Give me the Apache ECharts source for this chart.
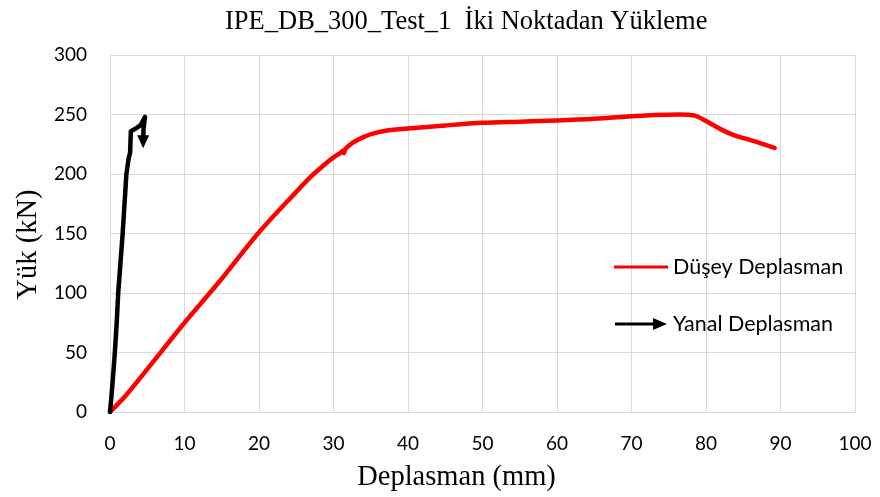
<!DOCTYPE html>
<html>
<head>
<meta charset="utf-8">
<script src="https://cdn.jsdelivr.net/npm/echarts@6/dist/echarts.min.js"></script>
<style>html,body{margin:0;padding:0;background:#fff}#c{width:880px;height:497px}</style>
</head>
<body>
<div id="c"></div>
<script>
const titleText = 'IPE_DB_300_Test_1  İki Noktadan Yükleme';
const xTitle = 'Deplasman (mm)';
const yTitle = 'Yük (kN)';
const seriesNames = ['Düşey Deplasman', 'Yanal Deplasman'];
const xTicks = [0, 10, 20, 30, 40, 50, 60, 70, 80, 90, 100];
const yTicks = [0, 50, 100, 150, 200, 250, 300];

// Düşey Deplasman (vertical displacement) [mm, kN]
const dusey = [
  [0,0],[2,13],[5,36],[10,75],[15,112],[20,151],[25,185],[27,198],[29,209],[30,214],
  [31,218],[31.2,219.5],[31.4,217.5],[31.6,221],[32.5,226],[34,231],[35.5,234.3],[37,236.3],
  [40,238.2],[45,240.8],[50,243],[55,244],[60,245],[65,246.4],[70,248.5],[73,249.6],
  [76.5,250],[78.5,249],[80,244.5],[82,237.5],[84,232],[86,228.5],[89.2,222]
];
// Yanal Deplasman (lateral displacement) [mm, kN]
const yanal = [
  [0,0],[0.15,10],[0.35,25],[0.65,50],[0.9,75],[1.1,100],[1.4,125],[1.7,150],[1.95,175],
  [2.2,200],[2.5,213],[2.7,218],
  [2.8,236],[3.4,238],[4.1,241],[4.7,248],[4.5,238],[4.45,227]
];

const chart = echarts.init(document.getElementById('c'), null, {renderer: 'canvas'});
const gridColor = '#d9d9d9';
const sansFont = 'Lato';
const serifFont = 'Liberation Serif';

const arrowIcon = 'path://M0,4.6 L38,4.6 L38,0 L52,6 L38,12 L38,7.4 L0,7.4 Z';
const lineIcon = 'path://M0,4.5 L52,4.5 L52,7.5 L0,7.5 Z';

chart.setOption({
  animation: false,
  backgroundColor: '#ffffff',
  title: {
    text: titleText,
    left: 220, top: 4,
    textStyle: {fontFamily: serifFont, fontSize: 26.5, fontWeight: 'normal', color: '#000'}
  },
  grid: {left: 110, right: 25, top: 55, bottom: 84, containLabel: false},
  legend: {
    orient: 'vertical',
    left: 609, top: 251,
    itemGap: 35,
    itemWidth: 54, itemHeight: 12,
    textStyle: {fontFamily: sansFont, fontSize: 21.5, color: '#000', padding: [0,0,0,0]},
    data: [
      {name: seriesNames[0], icon: lineIcon, itemStyle: {color: '#ff0000'}},
      {name: seriesNames[1], icon: arrowIcon, itemStyle: {color: '#000000'}}
    ]
  },
  xAxis: {
    type: 'value', min: xTicks[0], max: xTicks[xTicks.length-1], interval: 10,
    name: xTitle, nameLocation: 'middle', nameGap: 51,
    nameTextStyle: {fontFamily: serifFont, fontSize: 28.5, color: '#000', padding: [0, 52, 0, 0]},
    axisLine: {show: true, lineStyle: {color: gridColor, width: 1}},
    axisTick: {show: false},
    axisLabel: {fontFamily: sansFont, fontSize: 19, color: '#000', margin: 22},
    splitLine: {show: true, lineStyle: {color: gridColor, width: 1}}
  },
  yAxis: {
    type: 'value', min: yTicks[0], max: yTicks[yTicks.length-1], interval: 50,
    name: yTitle, nameLocation: 'middle', nameGap: 63,
    nameTextStyle: {fontFamily: serifFont, fontSize: 28.5, color: '#000', padding: [0, 22, 0, 0]},
    axisLine: {show: true, lineStyle: {color: gridColor, width: 1}},
    axisTick: {show: false},
    axisLabel: {fontFamily: sansFont, fontSize: 19, color: '#000', margin: 23},
    splitLine: {show: true, lineStyle: {color: gridColor, width: 1}}
  },
  series: [
    {
      name: seriesNames[0], type: 'line', data: dusey, smooth: 0.3,
      showSymbol: false, symbol: 'none',
      lineStyle: {color: '#ff0000', width: 4.5, cap: 'round', join: 'round'},
      itemStyle: {color: '#ff0000'}, z: 2
    },
    {
      name: seriesNames[1], type: 'line', data: yanal, smooth: false,
      showSymbol: true,
      symbol: function (v, p) { return p.dataIndex === yanal.length - 1 ? 'triangle' : 'none'; },
      symbolSize: [12, 13], symbolRotate: 180,
      lineStyle: {color: '#000000', width: 4.5, cap: 'round', join: 'round'},
      itemStyle: {color: '#000000'}, z: 3
    }
  ]
});
</script>
</body>
</html>
